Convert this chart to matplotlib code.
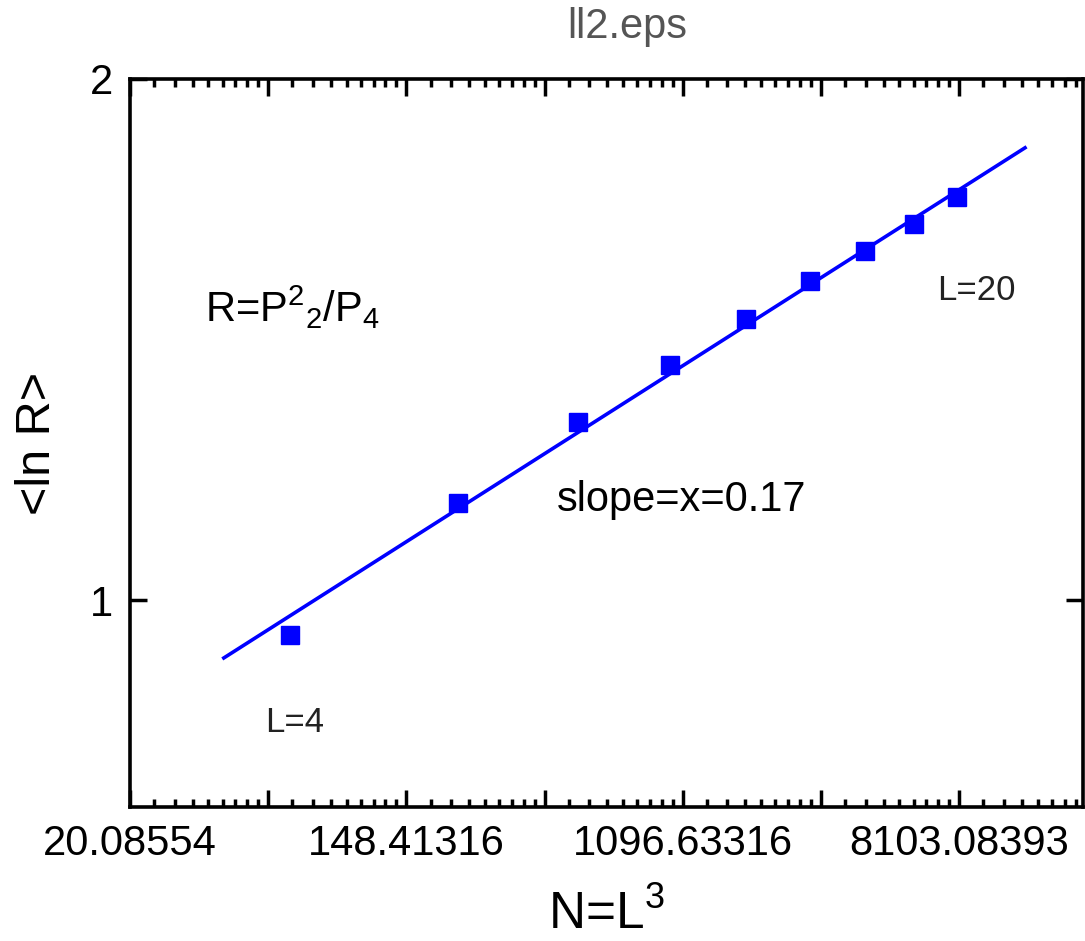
import numpy as np
import matplotlib
matplotlib.use('Agg')
import matplotlib.pyplot as plt
from matplotlib.ticker import FixedLocator, LogLocator, NullFormatter

plt.rcParams['font.family'] = ['Liberation Sans', 'DejaVu Sans']
plt.rcParams['mathtext.default'] = 'regular'

# datos
L = [4, 6, 8, 10, 12, 14, 16, 18, 20]
N = [64, 216, 512, 1000, 1728, 2744, 4096, 5832, 8000]
lnR = [0.933, 1.186, 1.342, 1.451, 1.539, 1.612, 1.670, 1.722, 1.774]

# recta de ajuste (extremos leidos)
fit_N = [39.6, 13050]
fit_lnR = [0.889, 1.868]

xtick_pos = [np.e**3, np.e**4, np.e**5, np.e**6, np.e**7, np.e**8, np.e**9]
xtick_labels = ['20.08554', '', '148.41316', '', '1096.63316', '', '8103.08393']
ytick_pos = [1, 2]
ytick_labels = ['1', '2']

W, H = 1085, 941
fig = plt.figure(figsize=(W / 100, H / 100), dpi=100)
ax = fig.add_axes([130/W, 1 - 807/H, (1083 - 130)/W, (807 - 79)/H])

ax.plot(fit_N, fit_lnR, '-', color='#0000ff', linewidth=2.6, zorder=2)
ax.plot(N, lnR, 's', color='#0000ff', markersize=12.5, zorder=3)

ax.set_xscale('log', base=np.e)
ax.set_xlim(np.e**3, np.e**9.896)
ax.set_ylim(0.603, 2.0)

ax.xaxis.set_major_locator(FixedLocator(xtick_pos))
ax.set_xticklabels(xtick_labels)
ax.xaxis.set_minor_locator(LogLocator(base=np.e, subs=1 + np.arange(1, 9) * (np.e - 1) / 9, numticks=50))
ax.xaxis.set_minor_formatter(NullFormatter())
ax.set_yticks(ytick_pos)
ax.set_yticklabels(ytick_labels)
ax.yaxis.set_minor_locator(FixedLocator([]))

ax.tick_params(which='both', direction='in', top=True, right=True, width=2.5, color='black')
ax.tick_params(which='major', length=12.5, labelsize=30, pad=12)
ax.tick_params(which='minor', length=6)
for s in ax.spines.values():
    s.set_linewidth(2.6)

ax.set_xlabel('N=L$^3$', fontsize=37, labelpad=19)
ax.set_ylabel('<ln R>', fontsize=35, labelpad=22)

# textos en coordenadas de pixel (origen arriba a la izquierda)
def px(x, y):
    return x, H - y

ax.text(*px(205, 322), 'R=P$^{2}{}_{2}$/P$_{4}$', transform=None, fontsize=30, va='baseline')
ax.text(*px(557, 500), 'slope=x=0.17', transform=None, fontsize=30, va='center')
ax.text(*px(265, 723), 'L=4', transform=None, fontsize=25, va='center', color='#222222')
ax.text(*px(937, 290), 'L=20', transform=None, fontsize=25, va='center', color='#222222')

fig.text(627/W, 1 - 27/H, 'll2.eps', fontsize=30, ha='center', va='center', color='#555555')

fig.savefig('out.png', dpi=100)
